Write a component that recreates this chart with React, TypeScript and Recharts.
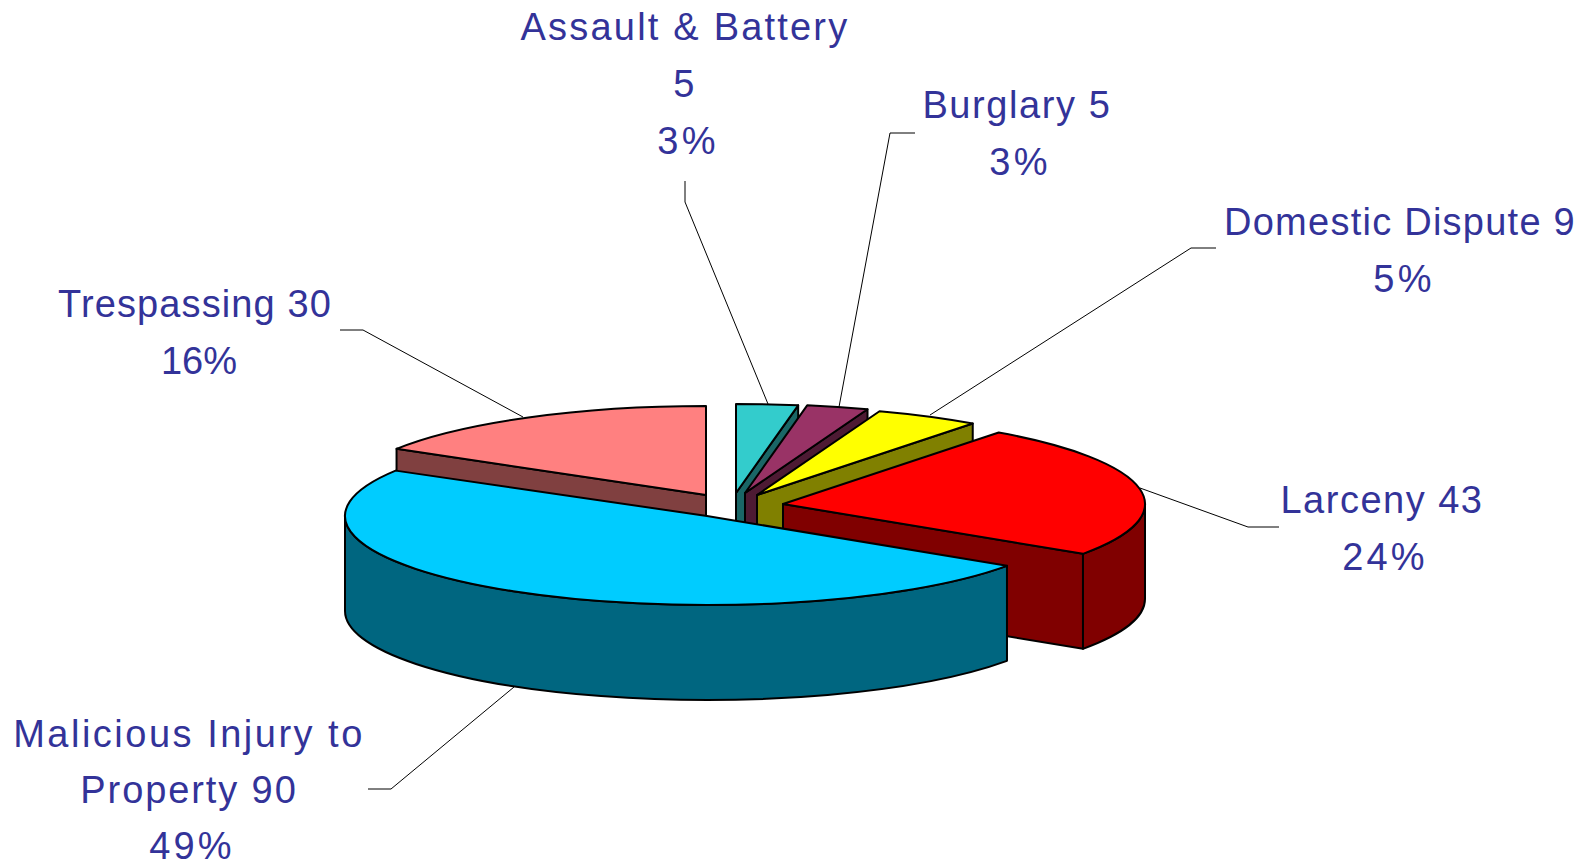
import React from "react";
import { PieChart, Pie } from "recharts";

// Data, drawn clockwise from the Trespassing wedge so that nearer wedges paint last.
const categories = ["Trespassing", "Assault & Battery\n", "Burglary", "Domestic Dispute", "Larceny", "Malicious Injury to\nProperty"];
const values = [30, 5, 5, 9, 43, 90];

// Styles
const topColors = ["#FF8080", "#33CCCC", "#993366", "#FFFF00", "#FF0000", "#00CCFF"];
const wallColors = ["#804040", "#1A6666", "#4D1A33", "#808000", "#800000", "#006680"];
const TEXT = "#333399";
const FONT = "'Liberation Sans', Arial, sans-serif";

// Layout
const W = 1593;
const H = 867;
const CX = 720;
const CY = 500;
const RX = 362;
const TILT = 89 / 362;
const DEPTH = 95;
const START = 90 + (30 / 182) * 360;
const explodeX = [-14, 16, 25, 37, 63, -13];
const explodeY = [-5, -7, -7, -5, 4, 16];
// small per-wedge projection corrections, in degrees
const startWarp = [0.6, 0, 0, 0, -1, 1.4];
const endWarp = [0, 0, 0, -1, 1.4, 0];
const labelX = [195, 685, 1017, 1400, 1382, 189];
const labelY = [317, 40, 118, 235, 513, 747];
const lineGap = [57, 57, 57, 57, 57, 56];
const spacing = [
  [1.1, 0],
  [2.2, 2.2, 3.2],
  [1.6, 3.2],
  [1.25, 3.2],
  [1.5, 3.2],
  [2.5, 1.9, 3.2],
];
const percentShift = [4, 3, 3, 4, 3, 3];
const leaders = [
  "340,330 363,330 523,417",
  "685,181 685,202 768,404",
  "915,133 890,133 839,407",
  "1216,248 1191,248 930,415",
  "1279,527 1248,527 1140,488",
  "368,789 391,789 514,687",
];

const pieData = categories.map((name, i) => ({ name, value: values[i], fill: topColors[i], idx: i }));

function Slice3D(props: any) {
  const { cx, cy, outerRadius, startAngle, endAngle, fill } = props;
  const i = props.idx ?? props.payload?.idx ?? 0;
  const x0 = cx + explodeX[i];
  const y0 = cy + explodeY[i];
  const rx = outerRadius;
  const ry = outerRadius * TILT;
  let a = 90 - startAngle;
  let b = 90 - endAngle;
  if (a < 0) {
    a += 360;
    b += 360;
  }
  a += startWarp[i];
  b += endWarp[i];
  const pt = (t: number, dz = 0) => {
    const r = (t * Math.PI) / 180;
    return `${(x0 + rx * Math.sin(r)).toFixed(2)} ${(y0 - ry * Math.cos(r) + dz).toFixed(2)}`;
  };
  const wall = wallColors[i];
  const stroke = { stroke: "#000", strokeWidth: 2, strokeLinejoin: "round" as const };
  const apex = `${x0} ${y0}`;
  const apexLow = `${x0} ${y0 + DEPTH}`;
  const parts: React.ReactNode[] = [];
  if (b > 0 && b < 180) {
    parts.push(<path key="e" d={`M${apex} L${pt(b)} L${pt(b, DEPTH)} L${apexLow} Z`} fill={wall} {...stroke} />);
  }
  if (a > 180 && a < 360) {
    parts.push(<path key="s" d={`M${apex} L${pt(a)} L${pt(a, DEPTH)} L${apexLow} Z`} fill={wall} {...stroke} />);
  }
  const lo = Math.max(a, 90);
  const hi = Math.min(b, 270);
  if (hi > lo) {
    const large = hi - lo > 180 ? 1 : 0;
    parts.push(
      <path
        key="r"
        d={`M${pt(lo)} A${rx} ${ry} 0 ${large} 1 ${pt(hi)} L${pt(hi, DEPTH)} A${rx} ${ry} 0 ${large} 0 ${pt(lo, DEPTH)} Z`}
        fill={wall}
        {...stroke}
      />
    );
  }
  const large = b - a > 180 ? 1 : 0;
  parts.push(<path key="t" d={`M${apex} L${pt(a)} A${rx} ${ry} 0 ${large} 1 ${pt(b)} Z`} fill={fill} {...stroke} />);
  return <g>{parts}</g>;
}

function renderLabel(props: any) {
  const i = props.index;
  const name = categories[i];
  const first = `${name}${name.endsWith("\n") ? "" : " "}${values[i]}`;
  const lines = [...first.split("\n"), `${Math.round(props.percent * 100)}%`];
  return (
    <text key={i} textAnchor="middle" fill={TEXT} fontFamily={FONT} fontSize={38}>
      {lines.map((l, k) => (
        <tspan
          key={k}
          x={labelX[i] + (k === lines.length - 1 ? percentShift[i] : 0)}
          y={labelY[i] + k * lineGap[i]}
          letterSpacing={spacing[i][k]}
        >
          {l}
        </tspan>
      ))}
    </text>
  );
}

function renderLine(props: any) {
  return <polyline key={props.index} points={leaders[props.index]} fill="none" stroke="#000" strokeWidth={1} />;
}

export default function App() {
  return (
    <div style={{ position: "absolute", left: 0, top: 0, width: W, height: H, background: "#fff", overflow: "hidden" }}>
      <PieChart width={W} height={H} margin={{ top: 0, right: 0, bottom: 0, left: 0 }}>
        <Pie
          data={pieData}
          dataKey="value"
          nameKey="name"
          cx={CX}
          cy={CY}
          innerRadius={0}
          outerRadius={RX}
          startAngle={START}
          endAngle={START - 360}
          paddingAngle={0}
          isAnimationActive={false}
          shape={Slice3D}
          label={renderLabel}
          labelLine={renderLine}
          stroke="#000"
        />
      </PieChart>
    </div>
  );
}
